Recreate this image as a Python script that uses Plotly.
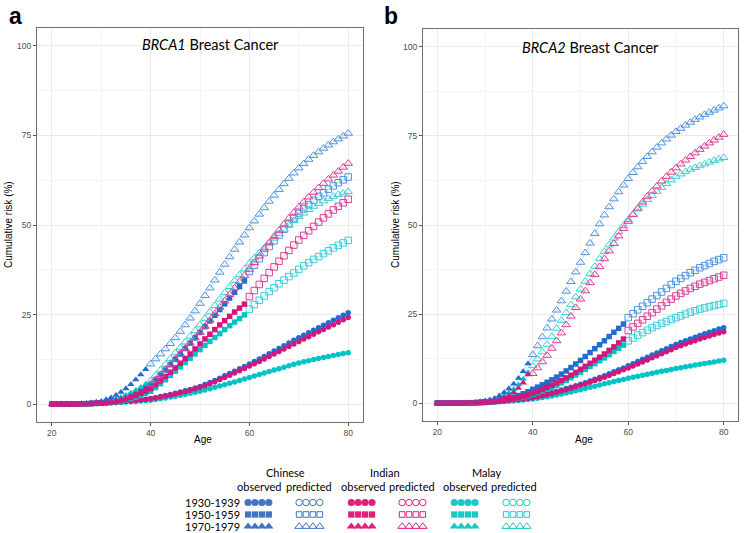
import plotly.graph_objects as go

# ---------------- data ----------------
AGES = list(range(20, 81))
GROUPS = ["Chinese", "Indian", "Malay"]
COHORTS = ["1930-1939", "1950-1959", "1970-1979"]
OBS_LAST_AGE = [80, 59, 39]  # last age with observed data, per cohort
PANEL_TITLES = ["<i>BRCA1</i> Breast Cancer", "<i>BRCA2</i> Breast Cancer"]
PANEL_LABELS = ["a", "b"]
X_TICKS = [20, 40, 60, 80]
Y_TICKS = [0, 25, 50, 75, 100]

# ---- panel a (BRCA1) ----
A_CN_1930 = [0, 0, 0, 0.01, 0.02, 0.04, 0.07, 0.1, 0.15, 0.22,
             0.3, 0.38, 0.47, 0.57, 0.68, 0.8, 0.93, 1.07, 1.22, 1.38,
             1.55, 1.8, 2.1, 2.4, 2.7, 3.0, 3.35, 3.7, 4.1, 4.5,
             4.9, 5.45, 6.0, 6.6, 7.2, 7.9, 8.55, 9.2, 9.85, 10.5,
             11.2, 11.9, 12.6, 13.3, 14.05, 14.8, 15.55, 16.3, 17.05, 17.8,
             18.5, 19.2, 19.9, 20.6, 21.3, 22.0, 22.7, 23.4, 24.1, 24.8, 25.5]
A_IN_1930 = [0, 0, 0, 0.01, 0.02, 0.04, 0.07, 0.1, 0.15, 0.21,
             0.28, 0.36, 0.45, 0.55, 0.65, 0.76, 0.88, 1.01, 1.15, 1.3,
             1.47, 1.7, 1.97, 2.25, 2.55, 2.85, 3.18, 3.52, 3.88, 4.25,
             4.65, 5.15, 5.7, 6.25, 6.85, 7.45, 8.08, 8.7, 9.33, 9.95,
             10.6, 11.25, 11.9, 12.58, 13.27, 13.97, 14.67, 15.37, 16.07, 16.77,
             17.47, 18.15, 18.83, 19.5, 20.17, 20.84, 21.5, 22.17, 22.84, 23.52, 24.2]
A_MY_1930 = [0, 0, 0, 0.01, 0.02, 0.03, 0.05, 0.08, 0.11, 0.15,
             0.2, 0.26, 0.32, 0.39, 0.47, 0.55, 0.64, 0.74, 0.85, 0.97,
             1.1, 1.3, 1.5, 1.72, 1.96, 2.2, 2.46, 2.73, 3.0, 3.3,
             3.6, 3.95, 4.3, 4.67, 5.04, 5.42, 5.8, 6.2, 6.6, 7.0,
             7.4, 7.82, 8.24, 8.66, 9.08, 9.5, 9.9, 10.3, 10.7, 11.1,
             11.45, 11.8, 12.12, 12.44, 12.74, 13.03, 13.32, 13.6, 13.86, 14.1, 14.35]
A_CN_1950 = [0, 0, 0, 0.01, 0.02, 0.04, 0.07, 0.12, 0.18, 0.26,
             0.35, 0.5, 0.75, 1.05, 1.45, 1.9, 2.45, 3.1, 3.85, 4.65,
             5.5, 6.8, 8.1, 9.5, 11.0, 12.5, 14.0, 15.5, 17.0, 18.5,
             20.0, 21.6, 23.2, 24.8, 26.4, 28.0, 29.6, 31.2, 32.8, 34.4,
             37.0, 38.8, 40.6, 42.3, 44.0, 45.6, 47.2, 48.8, 50.3, 51.8,
             53.2, 54.5, 55.7, 56.9, 58.0, 59.0, 60.0, 60.9, 61.8, 62.6, 63.4]
A_IN_1950 = [0, 0, 0, 0.01, 0.02, 0.03, 0.06, 0.1, 0.15, 0.22,
             0.3, 0.42, 0.6, 0.82, 1.1, 1.45, 1.88, 2.4, 3.0, 3.6,
             4.3, 5.4, 6.5, 7.7, 8.9, 10.1, 11.4, 12.7, 14.0, 15.4,
             16.8, 18.2, 19.5, 20.8, 22.1, 23.3, 24.5, 25.7, 26.8, 27.9,
             30.0, 31.7, 33.4, 35.1, 36.7, 38.3, 39.9, 41.4, 42.9, 44.4,
             45.8, 47.1, 48.4, 49.6, 50.8, 52.0, 53.1, 54.2, 55.2, 56.2, 57.2]
A_MY_1950 = [0, 0, 0, 0.01, 0.02, 0.03, 0.05, 0.08, 0.13, 0.19,
             0.26, 0.36, 0.5, 0.68, 0.9, 1.18, 1.52, 1.94, 2.44, 3.0,
             3.6, 4.6, 5.7, 6.8, 8.0, 9.2, 10.4, 11.6, 12.8, 14.0,
             15.2, 16.4, 17.5, 18.6, 19.7, 20.8, 21.9, 22.9, 23.9, 24.9,
             26.5, 27.8, 29.0, 30.2, 31.4, 32.5, 33.6, 34.6, 35.6, 36.6,
             37.6, 38.6, 39.5, 40.4, 41.2, 42.0, 42.8, 43.6, 44.3, 45.0, 45.7]
A_CN_1970 = [0, 0, 0, 0.01, 0.03, 0.06, 0.12, 0.22, 0.37, 0.57,
             0.82, 1.25, 1.8, 2.5, 3.35, 4.35, 5.5, 6.8, 8.2, 9.7,
             11.2, 12.6, 14.0, 15.4, 16.9, 18.5, 20.3, 22.1, 24.0, 26.0,
             28.1, 30.3, 32.4, 34.6, 36.8, 39.0, 41.1, 43.2, 45.2, 47.2,
             49.2, 51.1, 53.0, 54.8, 56.6, 58.3, 59.9, 61.5, 63.0, 64.5,
             65.9, 67.1, 68.3, 69.4, 70.4, 71.4, 72.3, 73.2, 74.0, 74.8, 75.6]
A_IN_1970 = [0, 0, 0, 0.01, 0.02, 0.04, 0.07, 0.12, 0.19, 0.28,
             0.4, 0.55, 0.75, 1.0, 1.3, 1.7, 2.2, 2.8, 3.5, 4.3,
             5.5, 6.8, 8.2, 9.6, 11.0, 12.5, 14.0, 15.5, 17.0, 18.5,
             20.0, 21.7, 23.4, 25.2, 27.0, 28.8, 30.6, 32.4, 34.2, 35.9,
             37.6, 39.5, 41.3, 43.2, 45.0, 46.8, 48.5, 50.2, 51.9, 53.5,
             55.0, 56.4, 57.8, 59.1, 60.4, 61.6, 62.8, 63.9, 65.0, 66.1, 67.2]
A_MY_1970 = [0, 0, 0, 0.01, 0.02, 0.05, 0.09, 0.15, 0.24, 0.36,
             0.52, 0.75, 1.05, 1.42, 1.88, 2.45, 3.1, 3.85, 4.7, 5.6,
             6.5, 8.0, 9.5, 11.1, 12.7, 14.3, 15.8, 17.3, 18.9, 20.5,
             22.1, 23.9, 25.7, 27.5, 29.3, 31.1, 32.8, 34.5, 36.1, 37.7,
             39.3, 40.8, 42.2, 43.6, 45.0, 46.3, 47.6, 48.8, 50.0, 51.2,
             52.3, 53.3, 54.3, 55.2, 56.0, 56.7, 57.4, 58.0, 58.5, 58.9, 59.3]

# ---- panel b (BRCA2) ----
B_CN_1930 = [0, 0, 0, 0.01, 0.02, 0.04, 0.07, 0.11, 0.16, 0.23,
             0.31, 0.4, 0.5, 0.61, 0.73, 0.86, 1.0, 1.15, 1.3, 1.45,
             1.6, 1.9, 2.2, 2.55, 2.9, 3.3, 3.7, 4.1, 4.5, 4.9,
             5.3, 5.75, 6.2, 6.7, 7.2, 7.7, 8.25, 8.8, 9.35, 9.9,
             10.5, 11.1, 11.7, 12.3, 12.9, 13.5, 14.1, 14.7, 15.3, 15.9,
             16.5, 17.0, 17.5, 18.0, 18.5, 19.0, 19.45, 19.9, 20.35, 20.8, 21.2]
B_IN_1930 = [0, 0, 0, 0.01, 0.02, 0.04, 0.07, 0.1, 0.15, 0.21,
             0.28, 0.36, 0.45, 0.55, 0.66, 0.78, 0.91, 1.05, 1.2, 1.35,
             1.5, 1.78, 2.07, 2.38, 2.7, 3.05, 3.42, 3.8, 4.2, 4.6,
             5.0, 5.45, 5.9, 6.35, 6.82, 7.3, 7.8, 8.3, 8.82, 9.35,
             9.9, 10.45, 11.0, 11.57, 12.15, 12.73, 13.3, 13.88, 14.45, 15.02,
             15.6, 16.1, 16.6, 17.08, 17.55, 18.0, 18.45, 18.88, 19.3, 19.7, 20.05]
B_MY_1930 = [0, 0, 0, 0.01, 0.02, 0.03, 0.05, 0.07, 0.1, 0.14,
             0.19, 0.25, 0.31, 0.38, 0.46, 0.55, 0.65, 0.76, 0.88, 1.0,
             1.15, 1.35, 1.57, 1.8, 2.05, 2.3, 2.58, 2.87, 3.17, 3.48,
             3.8, 4.12, 4.44, 4.77, 5.1, 5.43, 5.75, 6.07, 6.38, 6.68,
             6.98, 7.28, 7.57, 7.86, 8.14, 8.42, 8.68, 8.94, 9.2, 9.45,
             9.7, 9.95, 10.2, 10.44, 10.68, 10.91, 11.14, 11.37, 11.59, 11.81, 12.05]
B_CN_1950 = [0, 0, 0, 0.01, 0.02, 0.04, 0.07, 0.11, 0.17, 0.25,
             0.35, 0.48, 0.64, 0.84, 1.08, 1.37, 1.72, 2.14, 2.64, 3.22,
             3.9, 4.5, 5.15, 5.85, 6.55, 7.3, 8.15, 9.05, 10.0, 11.0,
             12.0, 13.1, 14.2, 15.3, 16.4, 17.5, 18.7, 19.9, 21.0, 22.2,
             24.0, 25.1, 26.2, 27.2, 28.2, 29.2, 30.2, 31.2, 32.2, 33.3,
             34.2, 35.0, 35.8, 36.6, 37.3, 38.0, 38.6, 39.2, 39.8, 40.3, 40.8]
B_IN_1950 = [0, 0, 0, 0.01, 0.02, 0.03, 0.05, 0.08, 0.12, 0.18,
             0.25, 0.34, 0.45, 0.59, 0.76, 0.97, 1.22, 1.52, 1.88, 2.3,
             2.8, 3.3, 3.85, 4.45, 5.05, 5.7, 6.4, 7.1, 7.85, 8.65,
             9.5, 10.35, 11.2, 12.05, 12.9, 13.8, 14.8, 15.8, 16.9, 18.0,
             20.4, 21.4, 22.4, 23.4, 24.4, 25.4, 26.4, 27.3, 28.3, 29.2,
             30.1, 30.8, 31.5, 32.2, 32.8, 33.4, 33.9, 34.4, 34.9, 35.4, 35.9]
B_MY_1950 = [0, 0, 0, 0.01, 0.02, 0.03, 0.05, 0.07, 0.11, 0.16,
             0.22, 0.3, 0.4, 0.53, 0.69, 0.88, 1.1, 1.37, 1.7, 2.08,
             2.5, 2.95, 3.42, 3.92, 4.45, 5.0, 5.7, 6.4, 7.15, 7.92,
             8.7, 9.5, 10.3, 11.1, 11.9, 12.7, 13.6, 14.5, 15.4, 16.3,
             17.5, 18.3, 19.1, 19.8, 20.5, 21.2, 21.8, 22.4, 22.9, 23.5,
             24.0, 24.5, 25.0, 25.5, 25.95, 26.4, 26.75, 27.1, 27.4, 27.7, 28.0]
B_CN_1970 = [0, 0, 0, 0.01, 0.02, 0.04, 0.08, 0.14, 0.25, 0.42,
             0.65, 0.95, 1.4, 2.1, 3.0, 4.1, 5.4, 7.0, 8.9, 11.1,
             13.6, 16.1, 18.6, 21.1, 23.6, 26.1, 28.7, 31.4, 34.1, 36.8,
             39.5, 42.2, 44.9, 47.6, 50.3, 52.8, 55.1, 57.3, 59.3, 61.2,
             63.0, 64.7, 66.3, 67.8, 69.2, 70.5, 71.8, 73.0, 74.1, 75.2,
             76.2, 77.1, 78.0, 78.8, 79.6, 80.3, 81.0, 81.6, 82.2, 82.8, 83.4]
B_IN_1970 = [0, 0, 0, 0.01, 0.02, 0.03, 0.05, 0.08, 0.13, 0.2,
             0.3, 0.45, 0.7, 1.05, 1.5, 2.1, 3.0, 4.2, 5.7, 8.0,
             8.3, 9.9, 11.6, 13.4, 15.4, 17.5, 19.7, 22.0, 24.4, 26.8,
             29.2, 31.5, 33.8, 36.1, 38.3, 40.5, 42.7, 44.8, 46.9, 49.0,
             51.0, 52.9, 54.7, 56.4, 58.0, 59.5, 60.9, 62.3, 63.6, 64.8,
             66.0, 67.1, 68.2, 69.2, 70.2, 71.2, 72.1, 73.0, 73.8, 74.6, 75.4]
B_MY_1970 = [0, 0, 0, 0.01, 0.02, 0.04, 0.07, 0.12, 0.2, 0.31,
             0.47, 0.7, 1.02, 1.48, 2.1, 2.9, 3.9, 5.2, 6.8, 8.6,
             10.5, 12.4, 14.4, 16.5, 18.7, 21.0, 23.2, 25.4, 27.6, 29.8,
             32.0, 34.2, 36.3, 38.4, 40.5, 42.5, 44.4, 46.3, 48.1, 49.8,
             51.5, 53.0, 54.5, 55.8, 57.1, 58.3, 59.4, 60.5, 61.6, 62.6,
             63.6, 64.3, 65.0, 65.6, 66.1, 66.6, 67.1, 67.6, 68.1, 68.5, 68.9]

PANELS = [
    {"Chinese": [A_CN_1930, A_CN_1950, A_CN_1970],
     "Indian": [A_IN_1930, A_IN_1950, A_IN_1970],
     "Malay": [A_MY_1930, A_MY_1950, A_MY_1970]},
    {"Chinese": [B_CN_1930, B_CN_1950, B_CN_1970],
     "Indian": [B_IN_1930, B_IN_1950, B_IN_1970],
     "Malay": [B_MY_1930, B_MY_1950, B_MY_1970]},
]

# ---------------- style ----------------
W, H = 751, 533
FILL = {"Chinese": "#1E6ECF", "Indian": "#D0177C", "Malay": "#00C3C8"}
OPEN = {"Chinese": "#4F93DE", "Indian": "#DC3F94", "Malay": "#3ACFD5"}
LINE = {"Chinese": "rgba(79,147,222,0.30)", "Indian": "rgba(220,63,148,0.30)",
        "Malay": "rgba(58,207,213,0.30)"}
LEG = {"Chinese": "#4472C4", "Indian": "#E0207F", "Malay": "#1EC8C2"}
SYM_F = ["circle", "square", "triangle-up"]
SYM_O = ["circle-open", "square-open", "triangle-up-open"]
SIZE_F = [5.5, 5.5, 6.5]
SIZE_O = [6.5, 6.5, 7.5]
FONT = "Lato, 'Open Sans', sans-serif"
TICKFONT = dict(family="Liberation Sans, Arial", size=8.5, color="#4D4D4D")

# plot areas in pixels: (left, right, top, bottom)
BOXES = [(37, 363, 28, 422), (423, 738, 29, 421)]

fig = go.Figure()

for p, data in enumerate(PANELS):
    xa = "x" if p == 0 else "x2"
    ya = "y" if p == 0 else "y2"
    for c in range(3):
        cut = OBS_LAST_AGE[c]
        for g in ["Malay", "Chinese", "Indian"]:
            vals = data[g][c]
            fig.add_trace(go.Scatter(x=AGES, y=vals, mode="lines", xaxis=xa, yaxis=ya,
                                     line=dict(color=LINE[g], width=1),
                                     showlegend=False, hoverinfo="skip"))
            ox = [a for a in AGES if a <= cut]
            oy = [v for a, v in zip(AGES, vals) if a <= cut]
            px_ = [a for a in AGES if a > cut]
            py_ = [v for a, v in zip(AGES, vals) if a > cut]
            if px_:
                fig.add_trace(go.Scatter(x=px_, y=py_, mode="markers", xaxis=xa, yaxis=ya,
                                         marker=dict(symbol=SYM_O[c], size=SIZE_O[c],
                                                     color=OPEN[g], line=dict(width=1, color=OPEN[g])),
                                         name=f"{g} {COHORTS[c]} predicted", showlegend=False))
            fig.add_trace(go.Scatter(x=ox, y=oy, mode="markers", xaxis=xa, yaxis=ya,
                                     marker=dict(symbol=SYM_F[c], size=SIZE_F[c],
                                                 color=FILL[g], line=dict(width=0)),
                                     name=f"{g} {COHORTS[c]} observed", showlegend=False))

def ax_common():
    return dict(showline=True, linecolor="#6E6E6E", linewidth=1, mirror=True,
                ticks="outside", ticklen=3, tickcolor="#555", tickwidth=1,
                showgrid=True, gridcolor="#EBEBEB", gridwidth=1, zeroline=False,
                tickfont=TICKFONT)

layout = dict(width=W, height=H, margin=dict(l=0, r=0, t=0, b=0),
              paper_bgcolor="white", plot_bgcolor="white", showlegend=False)
for p, (l, r, t, b) in enumerate(BOXES):
    sx = "" if p == 0 else "2"
    xd = dict(ax_common(), domain=[l / W, r / W], range=[17, 83], tickvals=X_TICKS,
              minor=dict(tickvals=[30, 50, 70], showgrid=True, gridcolor="#F4F4F4", ticks=""),
              anchor="y" + sx)
    yd = dict(ax_common(), domain=[1 - b / H, 1 - t / H], range=[-5, 105], tickvals=Y_TICKS,
              minor=dict(tickvals=[12.5, 37.5, 62.5, 87.5], showgrid=True, gridcolor="#F4F4F4", ticks=""),
              anchor="x" + sx)
    layout["xaxis" + sx] = xd
    layout["yaxis" + sx] = yd

# legend axes (pixel coordinates)
layout["xaxis3"] = dict(domain=[0, 1], range=[0, W], visible=False, anchor="y3", fixedrange=True)
layout["yaxis3"] = dict(domain=[0, 90 / H], range=[H, H - 90], visible=False, anchor="x3", fixedrange=True)
fig.update_layout(**layout)

ann = []
def pa(x, y, text, size, **kw):
    d = dict(x=x / W, y=1 - y / H, xref="paper", yref="paper", text=text, showarrow=False,
             xanchor="center", yanchor="middle",
             font=dict(family=kw.pop("family", FONT), size=size, color=kw.pop("color", "#000")))
    d.update(kw)
    ann.append(d)

for p, (l, r, t, b) in enumerate(BOXES):
    cx = (l + r) / 2
    pa([15, 391][p], 16, f"<b>{PANEL_LABELS[p]}</b>", 23, family="Liberation Sans, Arial")
    pa([210, 590][p], [45, 48][p], PANEL_TITLES[p], 14.5)
    pa(cx + 3, 439, "Age", 10, family="Liberation Sans, Arial")
    pa([8, 395][p], 225, "Cumulative risk (%)", 10, family="Liberation Sans, Arial",
       textangle=-90)

# legend text
GROUP_CX = [285, 385, 487]
SUB_CX = [(259, 308.5), (362.7, 412.3), (465.3, 514.3)]
for i, g in enumerate(GROUPS):
    pa(GROUP_CX[i], 472, g, 11)
    pa(SUB_CX[i][0], 486, "observed", 11)
    pa(SUB_CX[i][1], 486, "predicted", 11)
ROW_Y = [502.5, 514.5, 526.5]
for c, lab in enumerate(COHORTS):
    pa(212, ROW_Y[c], lab, 11)
fig.update_layout(annotations=ann)

# legend symbols
GROUP_START = [(244.5, 295.5), (347.7, 398.5), (450.7, 502.5)]
LEG_SIZE = [7.2, 6.3, 8.2]
for i, g in enumerate(GROUPS):
    for k, kind in enumerate(["obs", "pred"]):
        x0 = GROUP_START[i][k]
        for c in range(3):
            xs = [x0 + 3.6 + j * 6.9 for j in range(4)]
            ys = [ROW_Y[c]] * 4
            if kind == "obs":
                mk = dict(symbol=SYM_F[c], size=LEG_SIZE[c], color=LEG[g], line=dict(width=0))
            else:
                mk = dict(symbol=SYM_O[c], size=LEG_SIZE[c] - 0.7, color=LEG[g],
                          line=dict(width=1, color=LEG[g]))
            fig.add_trace(go.Scatter(x=xs, y=ys, mode="markers", xaxis="x3", yaxis="y3",
                                     marker=mk, showlegend=False, hoverinfo="skip"))

fig.write_html("out.html", config={"displayModeBar": False},
               post_script="document.body.style.margin='0px';")
